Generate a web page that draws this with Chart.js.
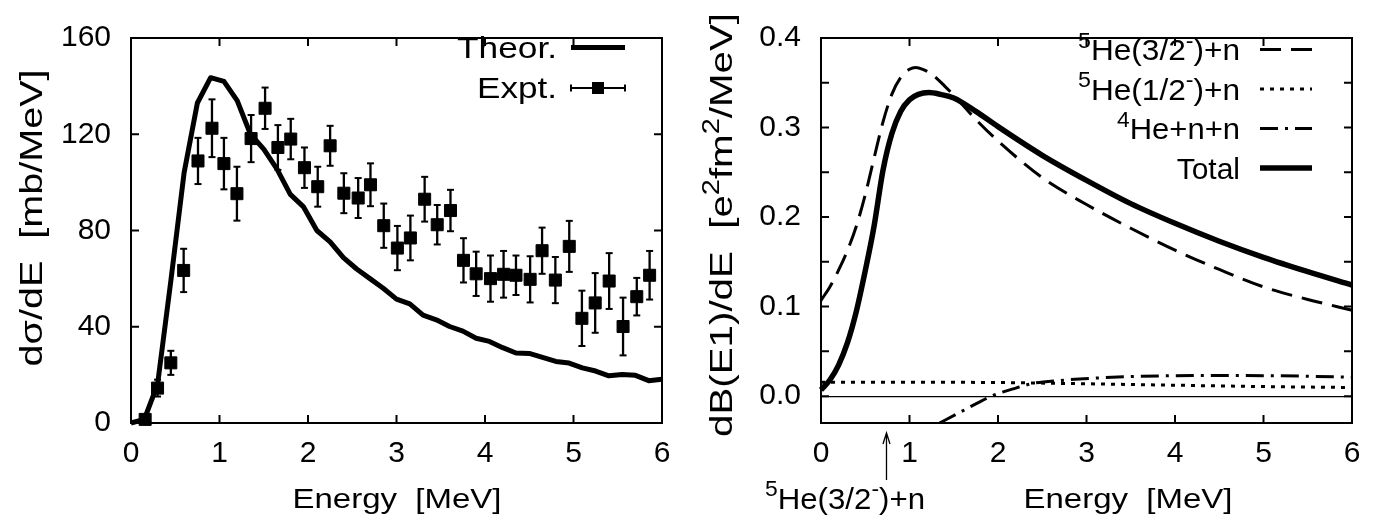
<!DOCTYPE html>
<html>
<head>
<meta charset="utf-8">
<title>6He Coulomb breakup</title>
<script src="https://cdn.jsdelivr.net/npm/chart.js"></script>
<style>
  html, body { margin: 0; padding: 0; background: #fff; }
  #wrap { display: flex; width: 1380px; height: 518px; }
  .panel { width: 690px; height: 518px; }
</style>
</head>
<body>
<div id="wrap">
  <div class="panel"><canvas id="leftChart" width="690" height="518"></canvas></div>
  <div class="panel"><canvas id="rightChart" width="690" height="518"></canvas></div>
</div>
<script>
// shared energy axis
var xTicks = [0, 1, 2, 3, 4, 5, 6];

// ---- left panel: d(sigma)/dE ----
var sigmaTicks = [0, 40, 80, 120, 160];

var theorE = [0, 0.15, 0.3, 0.45, 0.6, 0.75, 0.9, 1.05, 1.2, 1.35, 1.5, 1.65, 1.8, 1.95, 2.1,
  2.25, 2.4, 2.55, 2.7, 2.85, 3.0, 3.15, 3.3, 3.45, 3.6, 3.75, 3.9, 4.05, 4.2, 4.35, 4.5,
  4.65, 4.8, 4.95, 5.1, 5.25, 5.4, 5.55, 5.7, 5.85, 6.0];
var theorSigma = [0, 1.5, 16, 59, 104, 133, 143.5, 142, 134, 120, 113.8, 105.5, 95, 89.8, 80,
  75.3, 68.7, 64, 60, 56, 51.5, 49.5, 44.8, 42.9, 40.1, 38.2, 35.2, 33.9, 31.3, 29.1, 28.9,
  27.3, 25.6, 24.9, 22.9, 21.6, 19.6, 20.2, 19.8, 17.6, 18.2];

var exptE = [0.16, 0.30, 0.45, 0.595, 0.757, 0.915, 1.05, 1.197, 1.357, 1.515, 1.66, 1.805,
  1.96, 2.11, 2.25, 2.405, 2.567, 2.706, 2.856, 3.01, 3.157, 3.318, 3.46, 3.61, 3.757, 3.90,
  4.062, 4.21, 4.35, 4.51, 4.645, 4.795, 4.952, 5.095, 5.245, 5.403, 5.56, 5.715, 5.86];
var exptSigma = [1.5, 14.5, 25, 63.4, 108.9, 122.5, 107.8, 95.3, 118.2, 130.8, 114.5, 118,
  106.1, 98.2, 115.2, 95.5, 93.5, 99, 82, 72.7, 76.9, 93, 82.4, 88.3, 67.6, 62,
  60, 61.8, 61.4, 59.7, 71.6, 59.4, 73.4, 43.5, 49.9, 59, 40.1, 52.5, 61.4];
var exptErr = [1.5, 3.5, 5, 9, 9.6, 12, 10.7, 11.2, 9.8, 8.6, 9.3, 8.4,
  8.4, 8.3, 8.3, 8.3, 8.3, 8.9, 9.2, 9.2, 9.3, 9.3, 8.2, 8.6, 9.2, 9.2,
  9.6, 9.7, 8.2, 9.6, 9.6, 9.6, 10.6, 11.5, 12.4, 11.6, 12, 7.8, 10.1];

// ---- right panel: dB(E1)/dE ----
var strengthTicks = [0, 0.05, 0.1, 0.15, 0.2, 0.25, 0.3, 0.35, 0.4];

var he32E = [0, 0.1, 0.2, 0.3, 0.4, 0.5, 0.6, 0.7, 0.8, 0.9, 1.0, 1.07, 1.15, 1.26, 1.4, 1.5,
  1.75, 2.0, 2.5, 3.0, 3.5, 4.0, 4.5, 5.0, 5.5, 6.0];
var he32Val = [0.107, 0.122, 0.141, 0.163, 0.19, 0.225, 0.266, 0.306, 0.337, 0.356, 0.365,
  0.367, 0.365, 0.359, 0.346, 0.336, 0.309, 0.285, 0.244, 0.214, 0.1875, 0.163, 0.1415,
  0.122, 0.108, 0.096];

var he12E = [0, 1, 2, 3, 4, 5, 6];
var he12Val = [0.0155, 0.0155, 0.0152, 0.0138, 0.0122, 0.0107, 0.0096];

var threeBodyE = [1.34, 1.6, 1.925, 2.2, 2.41, 2.7, 2.97, 3.5, 4.0, 4.5, 5.0, 5.5, 6.0];
var threeBodyVal = [-0.03, -0.0165, 0, 0.009, 0.0145, 0.0175, 0.0194, 0.0218, 0.0229, 0.0231,
  0.0229, 0.0222, 0.0212];

var totalE = [0, 0.1, 0.2, 0.3, 0.4, 0.5, 0.6, 0.7, 0.8, 0.9, 1.0, 1.1, 1.22, 1.35, 1.5,
  1.75, 2.0, 2.5, 3.0, 3.5, 4.0, 4.5, 5.0, 5.5, 6.0];
var totalVal = [0.007, 0.018, 0.035, 0.06, 0.095, 0.14, 0.19, 0.252, 0.293, 0.318, 0.331,
  0.337, 0.339, 0.337, 0.333, 0.318, 0.301, 0.269, 0.241, 0.215, 0.193, 0.173, 0.155,
  0.139, 0.124];

var thresholdE = 0.74;   // 5He(3/2-)+n threshold marked by the arrow

var FONT = '"Liberation Sans", Arial, Helvetica, sans-serif';
var DASHED = [21, 10], DOTTED = [4, 6], DASHDOT = [18, 7, 3, 7];

function pts(xs, ys) {
  return xs.map(function (x, i) { return { x: x, y: ys[i] }; });
}

// error bars as one broken line, caps come from the 'line' point style
function errorBars(xs, ys, es) {
  var out = [];
  xs.forEach(function (x, i) {
    out.push({ x: x, y: ys[i] - es[i] }, { x: x, y: ys[i] + es[i] }, { x: x, y: null });
  });
  return out;
}

// text in pieces, [string, isSuperscript]; cap centre sits on y
function drawText(ctx, parts, x, y, o) {
  var size = o.size, sup = Math.round(size * 0.72);
  ctx.save();
  ctx.translate(x, y);
  if (o.rot) ctx.rotate(o.rot);
  var w = 0;
  parts.forEach(function (p) {
    ctx.font = (p[1] ? sup : size) + 'px ' + FONT;
    w += ctx.measureText(p[0]).width;
  });
  ctx.scale(o.width ? o.width / w : 1, 1);
  var cx = o.align === 'right' ? -w : (o.align === 'center' ? -w / 2 : 0);
  var base = size * 0.358;
  ctx.fillStyle = '#000';
  ctx.textAlign = 'left';
  ctx.textBaseline = 'alphabetic';
  parts.forEach(function (p) {
    ctx.font = (p[1] ? sup : size) + 'px ' + FONT;
    ctx.fillText(p[0], cx, p[1] ? base - size * 0.42 : base);
    cx += ctx.measureText(p[0]).width;
  });
  ctx.restore();
}

function sampleLine(ctx, x0, x1, y, width, dash) {
  ctx.save();
  ctx.strokeStyle = '#000';
  ctx.lineWidth = width;
  ctx.lineCap = 'butt';
  ctx.setLineDash(dash || []);
  ctx.beginPath();
  ctx.moveTo(x0, y);
  ctx.lineTo(x1, y);
  ctx.stroke();
  ctx.restore();
}

// box round the plot and inward ticks on all four sides
var framePlugin = {
  id: 'frame',
  beforeDatasetsDraw: function (chart) {
    var ctx = chart.ctx, a = chart.chartArea, xs = chart.scales.x, ys = chart.scales.y;
    ctx.save();
    ctx.strokeStyle = '#000';
    ctx.lineWidth = 2;
    ctx.strokeRect(a.left, a.top, a.right - a.left, a.bottom - a.top);
    ctx.beginPath();
    xs.ticks.forEach(function (t) {
      var px = xs.getPixelForValue(t.value);
      ctx.moveTo(px, a.bottom); ctx.lineTo(px, a.bottom - 8);
      ctx.moveTo(px, a.top); ctx.lineTo(px, a.top + 8);
    });
    ys.ticks.forEach(function (t) {
      var py = ys.getPixelForValue(t.value);
      ctx.moveTo(a.left, py); ctx.lineTo(a.left + 8, py);
      ctx.moveTo(a.right, py); ctx.lineTo(a.right - 8, py);
    });
    ctx.stroke();
    ctx.restore();
  }
};

function baseOptions(yMin, yMax, yTicks, yLabel, yGrid) {
  var tickFont = { family: FONT, size: 30 };
  return {
    responsive: false,
    animation: false,
    events: [],
    layout: { padding: { left: 0, top: 21, right: 28, bottom: 0 } },
    plugins: { legend: { display: false }, tooltip: { enabled: false } },
    scales: {
      x: {
        type: 'linear', min: 0, max: 6,
        afterBuildTicks: function (s) { s.ticks = xTicks.map(function (v) { return { value: v }; }); },
        afterFit: function (s) { s.height = 95; },
        grid: { display: false, drawTicks: false },
        border: { display: false },
        ticks: { font: tickFont, color: '#000', padding: 13, maxRotation: 0, autoSkip: false }
      },
      y: {
        type: 'linear', min: yMin, max: yMax,
        afterBuildTicks: function (s) { s.ticks = yTicks.map(function (v) { return { value: v }; }); },
        afterFit: function (s) { s.width = 131; },
        grid: yGrid || { display: false, drawTicks: false },
        border: { display: false },
        ticks: { font: tickFont, color: '#000', padding: 20, autoSkip: false, callback: yLabel }
      }
    }
  };
}

// ---------- left chart ----------
var leftDeco = {
  id: 'leftDeco',
  afterDraw: function (chart) {
    var ctx = chart.ctx;
    drawText(ctx, [['Theor.', 0]], 557, 47.5, { size: 30, align: 'right', width: 100 });
    sampleLine(ctx, 571, 625, 47.5, 5);
    drawText(ctx, [['Expt.', 0]], 557, 87.5, { size: 30, align: 'right', width: 80 });
    sampleLine(ctx, 570, 626, 88, 2);
    ctx.save();
    ctx.lineWidth = 2;
    ctx.beginPath();
    ctx.moveTo(571, 84.5); ctx.lineTo(571, 91.5);
    ctx.moveTo(625, 84.5); ctx.lineTo(625, 91.5);
    ctx.stroke();
    ctx.fillRect(592, 82, 12, 12);
    ctx.restore();
    drawText(ctx, [['Energy  [MeV]', 0]], 397, 498, { size: 28, align: 'center', width: 209 });
    drawText(ctx, [['d\u03c3/dE  [mb/MeV]', 0]], 31, 218,
      { size: 32, align: 'center', width: 297, rot: -Math.PI / 2 });
  }
};

new Chart(document.getElementById('leftChart'), {
  type: 'line',
  data: {
    datasets: [
      {
        label: 'Expt.', data: pts(exptE, exptSigma), showLine: false, order: 0,
        pointStyle: 'rect', pointRadius: 8.5, pointBorderWidth: 1,
        pointBackgroundColor: '#000', pointBorderColor: '#000', clip: 12
      },
      {
        label: 'Expt. errors', data: errorBars(exptE, exptSigma, exptErr), order: 1,
        showLine: true, spanGaps: false, borderColor: '#000', borderWidth: 2.3,
        pointStyle: 'line', pointRadius: 3.5, pointBorderWidth: 2, pointBorderColor: '#000', clip: 12
      },
      {
        label: 'Theor.', data: pts(theorE, theorSigma), order: 2,
        borderColor: '#000', borderWidth: 5, pointRadius: 0, tension: 0,
        borderJoinStyle: 'round', clip: 4
      }
    ]
  },
  options: baseOptions(0, 160, sigmaTicks, function (v) { return String(v); }),
  plugins: [framePlugin, leftDeco]
});

// ---------- right chart ----------
var rightDeco = {
  id: 'rightDeco',
  afterDraw: function (chart) {
    var ctx = chart.ctx;
    var rows = [49.5, 89, 128.5, 168];
    drawText(ctx, [['5', 1], ['He(3/2', 0], ['-', 1], [')+n', 0]], 550, rows[0],
      { size: 30, align: 'right', width: 162 });
    sampleLine(ctx, 570, 622, rows[0], 3, DASHED);
    drawText(ctx, [['5', 1], ['He(1/2', 0], ['-', 1], [')+n', 0]], 550, rows[1],
      { size: 30, align: 'right', width: 162 });
    sampleLine(ctx, 570, 622, rows[1], 3, DOTTED);
    drawText(ctx, [['4', 1], ['He+n+n', 0]], 550, rows[2], { size: 30, align: 'right', width: 123 });
    sampleLine(ctx, 570, 622, rows[2], 3, DASHDOT);
    drawText(ctx, [['Total', 0]], 550, rows[3], { size: 30, align: 'right' });
    sampleLine(ctx, 570, 622, rows[3], 5.5);

    // threshold arrow under the axis
    var ax = chart.scales.x.getPixelForValue(thresholdE);
    ctx.save();
    ctx.strokeStyle = '#000';
    ctx.lineWidth = 1.3;
    ctx.beginPath();
    ctx.moveTo(ax, 480); ctx.lineTo(ax, 434);
    ctx.moveTo(ax - 3.5, 444); ctx.lineTo(ax, 433); ctx.lineTo(ax + 3.5, 444);
    ctx.stroke();
    ctx.restore();
    drawText(ctx, [['5', 1], ['He(3/2', 0], ['-', 1], [')+n', 0]], 155, 498,
      { size: 30, align: 'center', width: 160 });

    drawText(ctx, [['Energy  [MeV]', 0]], 438, 498, { size: 28, align: 'center', width: 209 });
    drawText(ctx, [['dB(E1)/dE  [e', 0], ['2', 1], ['fm', 0], ['2', 1], ['/MeV]', 0]], 31, 225,
      { size: 32, align: 'center', width: 424, rot: -Math.PI / 2 });
  }
};

var zeroLine = {
  display: true, drawOnChartArea: true, drawTicks: false, lineWidth: 1.2,
  color: function (c) { return c.tick && c.tick.value === 0 ? '#000' : 'rgba(0,0,0,0)'; }
};

new Chart(document.getElementById('rightChart'), {
  type: 'line',
  data: {
    datasets: [
      {
        label: 'Total', data: pts(totalE, totalVal), order: 0,
        borderColor: '#000', borderWidth: 5.5, pointRadius: 0,
        cubicInterpolationMode: 'monotone', clip: 4
      },
      {
        label: '5He(3/2-)+n', data: pts(he32E, he32Val), order: 1,
        borderColor: '#000', borderWidth: 3, borderDash: DASHED, pointRadius: 0,
        cubicInterpolationMode: 'monotone', clip: 3
      },
      {
        label: '5He(1/2-)+n', data: pts(he12E, he12Val), order: 2,
        borderColor: '#000', borderWidth: 3, borderDash: DOTTED, pointRadius: 0,
        cubicInterpolationMode: 'monotone', clip: 3
      },
      {
        label: '4He+n+n', data: pts(threeBodyE, threeBodyVal), order: 3,
        borderColor: '#000', borderWidth: 3, borderDash: DASHDOT, pointRadius: 0,
        cubicInterpolationMode: 'monotone', clip: 0
      }
    ]
  },
  options: baseOptions(-0.03, 0.4, strengthTicks, function (v) {
    return Math.abs(v * 10 - Math.round(v * 10)) < 1e-6 ? v.toFixed(1) : '';
  }, zeroLine),
  plugins: [framePlugin, rightDeco]
});
</script>
</body>
</html>
